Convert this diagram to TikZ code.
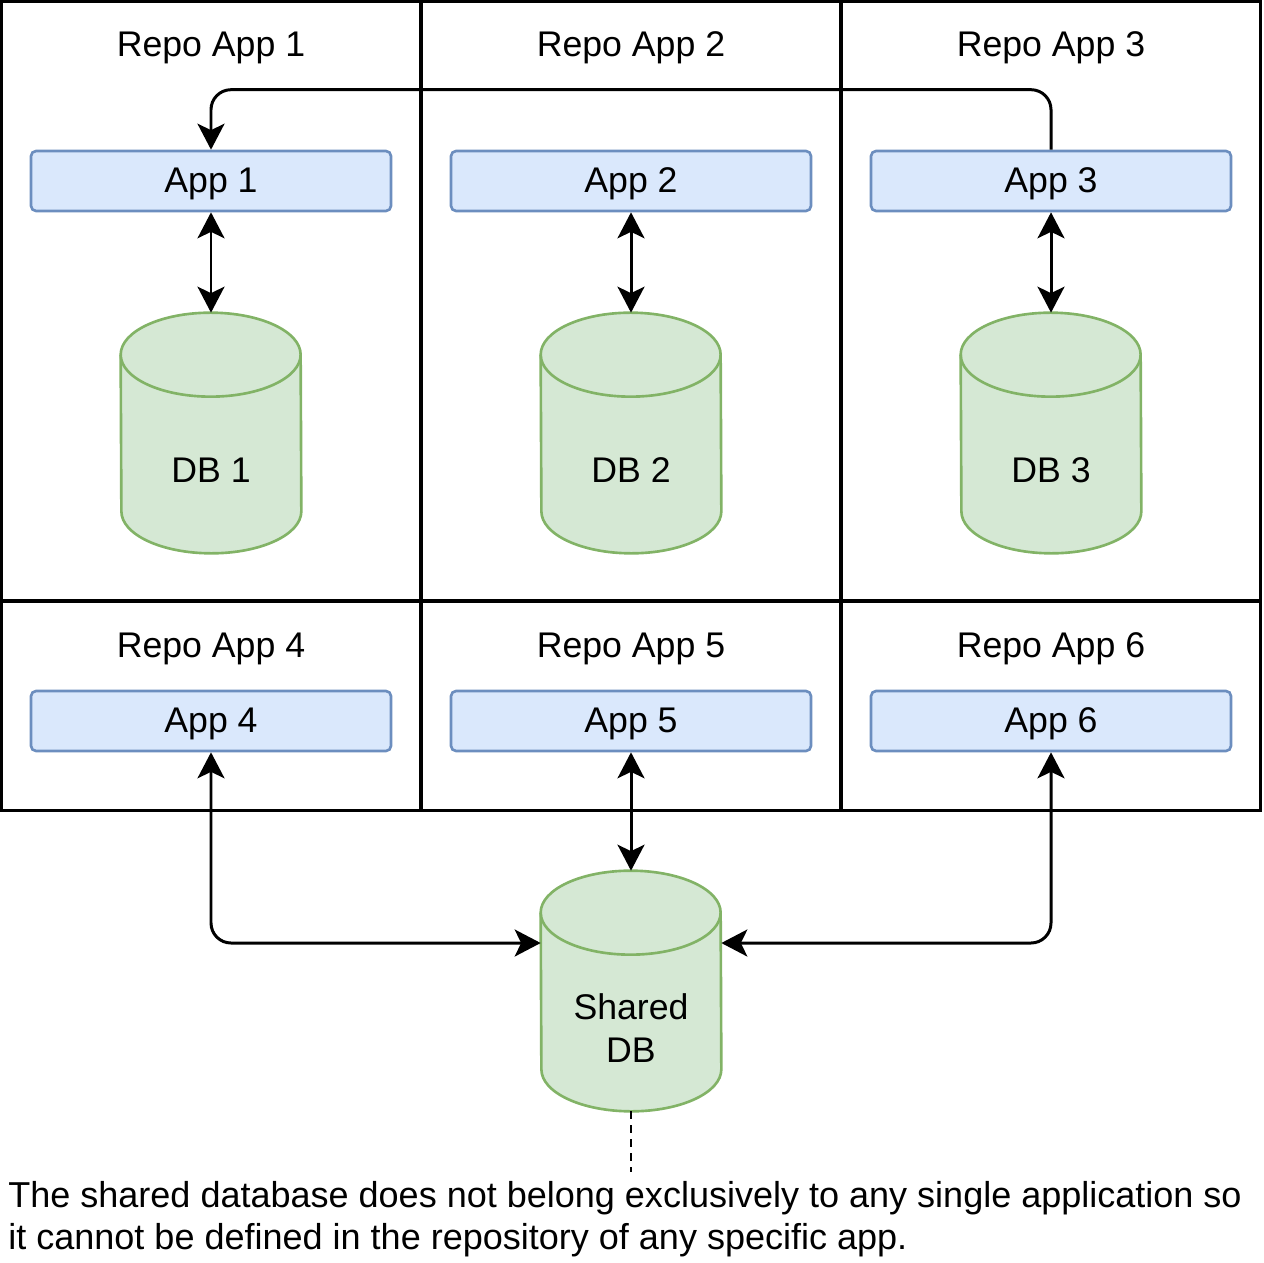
\documentclass[tikz,border=0pt]{standalone}
\usepackage{fontspec}
\setmainfont{Liberation Sans}
\usetikzlibrary{arrows.meta,backgrounds}
\definecolor{appfill}{HTML}{DAE8FC}
\definecolor{appline}{HTML}{6C8EBF}
\definecolor{dbfill}{HTML}{D5E8D4}
\definecolor{dbline}{HTML}{82B366}
\newcommand\cylshape[1]{%
  \draw[draw=dbline, fill=dbfill, line width=1.5pt]
    ([yshift=-0.84cm]#1.north west) arc[start angle=180,end angle=0,x radius=1.8cm,y radius=0.84cm]
    -- ([yshift=0.84cm]#1.south east) arc[start angle=0,end angle=-180,x radius=1.8cm,y radius=0.84cm] -- cycle;
  \draw[draw=dbline, line width=1.5pt]
    ([yshift=-0.84cm]#1.north west) arc[start angle=180,end angle=360,x radius=1.8cm,y radius=0.84cm];}
\begin{document}
\begin{tikzpicture}[x=0.02cm,y=-0.02cm,
  font=\fontsize{20.3pt}{24.4pt}\selectfont,
  >={Stealth[length=0.52cm,width=0.54cm,inset=0.13cm]},
  cell/.style={draw=black, line width=1.7pt, inner sep=0, minimum width=8.4cm},
  title/.style={anchor=base, inner sep=0},
  app/.style={draw=appline, fill=appfill, line width=1.5pt, rounded corners=0.1cm,
    minimum width=7.2cm, minimum height=1.2cm, text height=14pt, text depth=0.4pt, inner sep=0},
  db/.style={minimum width=3.6cm, minimum height=4.8cm, inner sep=0},
  dblabel/.style={label={[yshift=-0.74cm, align=center]center:#1}},
  conn/.style={line width=1.7pt, draw=black},
]
\useasboundingbox (0,0) rectangle (1263,1263);

% cells
\node[cell, minimum height=12cm] (c1) at (211,301) {};
\node[cell, minimum height=12cm] (c2) at (631,301) {};
\node[cell, minimum height=12cm] (c3) at (1051,301) {};
\node[cell, minimum height=4.2cm] (c4) at (211,706) {};
\node[cell, minimum height=4.2cm] (c5) at (631,706) {};
\node[cell, minimum height=4.2cm] (c6) at (1051,706) {};

% titles
\node[title] (t1) at (211,57) {Repo App 1};
\node[title] (t2) at (631,57) {Repo App 2};
\node[title] (t3) at (1051,57) {Repo App 3};
\node[title] (t4) at (211,657) {Repo App 4};
\node[title] (t5) at (631,657) {Repo App 5};
\node[title] (t6) at (1051,657) {Repo App 6};

% apps
\node[app] (app1) at (211,181) {App 1};
\node[app] (app2) at (631,181) {App 2};
\node[app] (app3) at (1051,181) {App 3};
\node[app] (app4) at (211,721) {App 4};
\node[app] (app5) at (631,721) {App 5};
\node[app] (app6) at (1051,721) {App 6};

% databases
\node[db, dblabel={DB 1}] (db1) at (211,433) {};
\node[db, dblabel={DB 2}] (db2) at (631,433) {};
\node[db, dblabel={DB 3}] (db3) at (1051,433) {};
\node[db, dblabel={Shared\\DB}] (shared) at (631,991) {};
\begin{scope}[on background layer]
  \cylshape{db1}
  \cylshape{db2}
  \cylshape{db3}
  \cylshape{shared}
\end{scope}

% connectors
\draw[conn,<->] (app1.south) -- (db1.north);
\draw[conn,<->] (app2.south) -- (db2.north);
\draw[conn,<->] (app3.south) -- (db3.north);
\draw[conn,->,rounded corners=0.4cm] (app3.north) -- ([yshift=1.2cm]app3.north) -| (app1.north);
\draw[conn,<->] (app5.south) -- (shared.north);
\draw[conn,<->,rounded corners=0.4cm] (app4.south) |- ([yshift=0.96cm]shared.west);
\draw[conn,<->,rounded corners=0.4cm] (app6.south) |- ([yshift=0.96cm]shared.east);

% note
\node[anchor=base west, align=left, inner sep=0, font=\fontsize{20.5pt}{23.9pt}\selectfont] (note) at (8,1249)
  {The shared database does not belong exclusively to any single application so\\it cannot be defined in the repository of any specific app.};
\coordinate (dashend) at (631,1172);
\draw[line width=1.3pt, dash pattern=on 0.16cm off 0.12cm] (shared.south) -- (dashend);
\end{tikzpicture}
\end{document}
